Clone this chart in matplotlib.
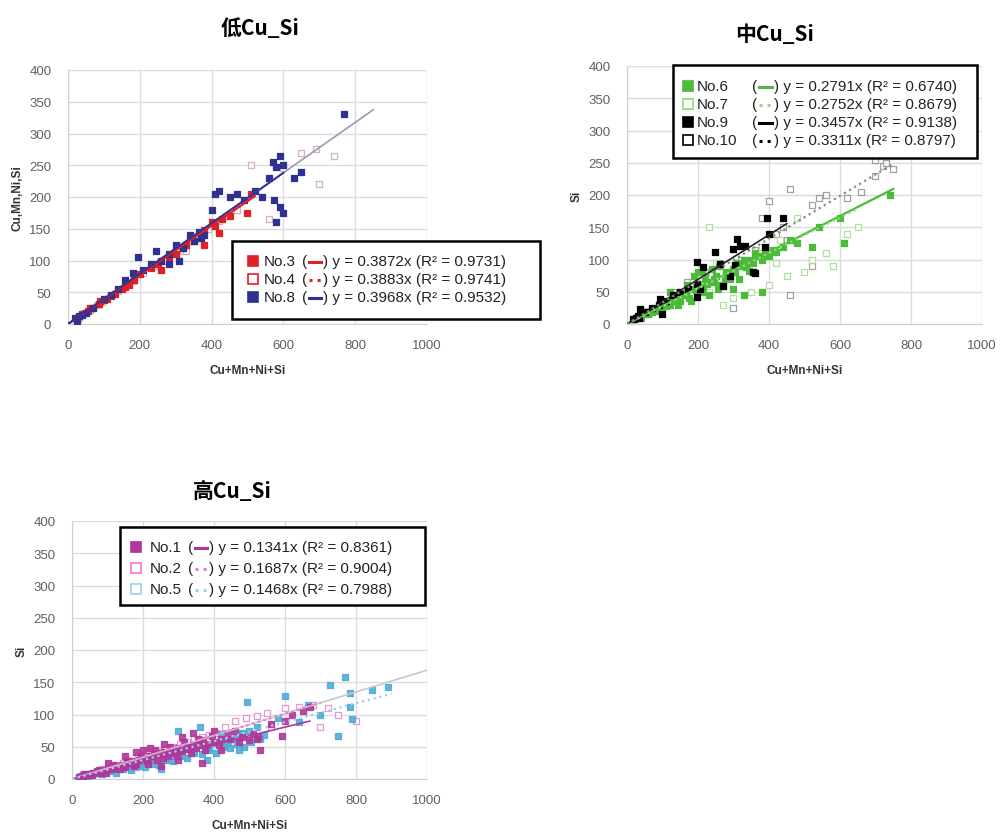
import matplotlib
matplotlib.use("Agg")
import matplotlib.pyplot as plt
from matplotlib.lines import Line2D
from matplotlib.patches import Rectangle

plt.rcParams['font.family'] = ['Liberation Sans', 'Noto Sans CJK SC', 'DejaVu Sans']

# ---------------- data: 低Cu_Si ----------------
no3_x = [25, 40, 55, 70, 85, 100, 110, 130, 150, 170, 185, 200, 230, 250, 260, 280, 300, 320, 330,
         350, 380, 400, 410, 420, 430, 450, 500, 510, 380, 60, 90, 120, 160]
no3_y = [8, 15, 20, 25, 32, 38, 40, 48, 55, 62, 70, 78, 88, 95, 85, 105, 110, 120, 125,
         130, 148, 160, 155, 143, 165, 170, 175, 205, 125, 25, 36, 44, 58]
no4_x = [30, 45, 60, 80, 95, 120, 140, 160, 180, 210, 240, 270, 300, 320, 340, 360, 390, 420, 440, 470,
         510, 650, 690, 700, 740, 560, 600, 330]
no4_y = [10, 18, 22, 30, 35, 45, 52, 60, 68, 80, 92, 100, 118, 115, 130, 135, 150, 162, 170, 180,
         250, 270, 275, 220, 265, 165, 245, 115]
no8_x = [20, 30, 50, 70, 100, 140, 160, 180, 195, 210, 230, 245, 260, 280, 300, 310, 320, 340, 350, 365,
         380, 400, 410, 420, 450, 470, 490, 520, 540, 560, 570, 580, 590, 600, 575, 590, 600, 580, 630,
         650, 770, 280, 370, 25, 40, 120]
no8_y = [10, 12, 18, 25, 40, 55, 70, 80, 105, 85, 95, 115, 100, 110, 125, 100, 120, 140, 130, 145,
         140, 180, 205, 210, 200, 205, 195, 210, 200, 230, 255, 248, 265, 250, 195, 185, 175, 160, 230,
         240, 330, 95, 135, 5, 14, 45]
low_slopes = [0.3872, 0.3883, 0.3968]
low_r2 = ['0.9731', '0.9741', '0.9532']
low_names = ['No.3', 'No.4', 'No.8']

# ---------------- data: 中Cu_Si ----------------
no6_x = [40, 60, 80, 100, 120, 140, 150, 160, 180, 200, 210, 220, 240, 250, 260, 280, 290, 300, 320, 340,
         350, 360, 380, 400, 410, 440, 460, 480, 520, 540, 600, 740, 610, 180, 230, 300, 380, 330, 200,
         120, 260, 70, 90, 110, 130, 145, 165, 175, 195, 215, 225, 245, 255, 275, 285, 305, 315, 335,
         345, 355, 370, 390, 420, 170, 190, 210, 240, 270, 310, 330, 150]
no6_y = [10, 15, 20, 25, 30, 40, 50, 45, 55, 60, 50, 70, 65, 75, 60, 80, 70, 85, 90, 95,
         100, 110, 100, 105, 115, 120, 130, 125, 120, 150, 165, 200, 125, 35, 45, 55, 50, 45, 80,
         50, 90, 18, 22, 28, 35, 30, 48, 40, 52, 58, 62, 70, 55, 72, 78, 80, 70, 88,
         82, 95, 105, 108, 112, 60, 75, 80, 85, 60, 95, 100, 35]
no7_x = [50, 90, 130, 170, 230, 270, 300, 350, 400, 450, 500, 520, 560, 580, 230, 430, 480, 620, 650,
         380, 250, 420]
no7_y = [20, 25, 40, 55, 50, 30, 40, 50, 60, 75, 80, 100, 110, 90, 150, 130, 165, 140, 150,
         120, 95, 95]
no9_x = [393, 440, 309, 299, 332, 248, 262, 304, 214, 290, 360, 196, 172, 205, 196, 98, 37, 18,
         20, 25, 30, 35, 50, 70, 90, 110, 130, 150, 318, 196, 355, 93, 270, 400, 390]
no9_y = [165, 164, 132, 116, 121, 112, 93, 91, 88, 75, 79, 62, 54, 54, 42, 16, 23, 8,
         8, 10, 12, 10, 18, 25, 30, 35, 45, 50, 121, 96, 80, 39, 59, 140, 120]
no10_x = [30, 50, 90, 130, 170, 220, 260, 320, 360, 420, 440, 400, 460, 520, 560, 540, 620, 700, 720,
          750, 730, 700, 660, 380, 450, 520, 460, 300]
no10_y = [10, 15, 30, 50, 65, 80, 95, 100, 115, 140, 150, 190, 210, 185, 200, 195, 195, 230, 245,
          240, 250, 255, 205, 165, 130, 90, 45, 25]
mid_slopes = [0.2791, 0.2752, 0.3457, 0.3311]
mid_r2 = ['0.6740', '0.8679', '0.9138', '0.8797']
mid_names = ['No.6', 'No.7', 'No.9', 'No.10']

# ---------------- data: 高Cu_Si ----------------
no1_x = [20, 30, 40, 50, 60, 70, 80, 90, 100, 110, 120, 130, 140, 150, 160, 170, 180, 190, 200, 210,
         220, 230, 240, 250, 260, 270, 280, 290, 300, 310, 320, 330, 340, 350, 360, 370, 380, 400, 420,
         440, 460, 480, 500, 520, 530, 365, 560, 600, 620, 650, 670, 591, 250, 200, 150, 100, 300, 420,
         35, 55, 75, 95, 115, 135, 155, 175, 195, 215, 235, 255, 275, 295, 315, 335, 355, 375, 395,
         415, 445, 470, 510, 525, 180, 220, 260, 310, 340, 400]
no1_y = [3, 5, 6, 8, 9, 12, 10, 14, 15, 18, 16, 20, 22, 18, 25, 28, 24, 30, 32, 28,
         35, 38, 30, 40, 42, 36, 45, 40, 48, 44, 50, 46, 55, 48, 52, 60, 55, 58, 62,
         70, 75, 65, 60, 62, 45, 25, 85, 90, 100, 105, 112, 67, 20, 45, 35, 25, 30, 45,
         8, 6, 14, 10, 22, 15, 28, 20, 36, 24, 45, 32, 50, 35, 58, 40, 62, 45, 66,
         52, 62, 58, 70, 65, 42, 48, 55, 65, 72, 75]
no2_x = [25, 45, 65, 85, 105, 125, 145, 165, 185, 205, 225, 245, 265, 285, 305, 325, 345, 365, 385, 405,
         430, 460, 490, 520, 550, 600, 640, 680, 720, 750, 800, 560, 480, 380, 280, 180, 700]
no2_y = [4, 8, 10, 15, 18, 22, 25, 28, 32, 36, 40, 44, 48, 50, 55, 58, 62, 65, 68, 72,
         80, 90, 95, 98, 102, 110, 112, 115, 110, 100, 90, 80, 70, 48, 30, 18, 80]
no5_x = [20, 30, 40, 60, 80, 100, 120, 140, 160, 180, 200, 220, 240, 260, 280, 300, 320, 340, 360, 380,
         400, 420, 440, 460, 480, 500, 520, 540, 580, 640, 700, 727, 783, 844, 891, 769, 789, 749, 360,
         492, 600, 300, 783, 665, 25, 45, 65, 85, 105, 125, 145, 165, 185, 205, 225, 245, 265, 285,
         305, 325, 345, 365, 385, 405, 425, 445, 465, 485, 505, 530, 470, 420, 380, 250]
no5_y = [3, 6, 8, 10, 12, 14, 18, 20, 22, 26, 28, 30, 34, 38, 40, 42, 46, 50, 55, 50,
         56, 60, 58, 64, 72, 75, 80, 68, 95, 88, 100, 145, 134, 138, 142, 158, 93, 67, 80,
         119, 129, 75, 111, 114, 5, 4, 9, 8, 12, 10, 16, 14, 20, 18, 24, 22, 30, 28,
         35, 32, 40, 38, 45, 40, 50, 48, 55, 50, 58, 62, 45, 70, 30, 15]
high_slopes = [0.1341, 0.1687, 0.1468]
high_r2 = ['0.8361', '0.9004', '0.7988']
high_names = ['No.1', 'No.2', 'No.5']

W, H = 1004, 837
fig = plt.figure(figsize=(W / 100, H / 100), dpi=100)


def P(px, py):
    return px / W, 1 - py / H


def make_axes(l, t, r, b):
    ax = fig.add_axes([l / W, 1 - b / H, (r - l) / W, (b - t) / H])
    ax.set_xlim(0, 1000)
    ax.set_ylim(0, 400)
    ax.set_xticks(range(0, 1001, 200))
    ax.set_yticks(range(0, 401, 50))
    ax.grid(True, color='#dcdcdc', linewidth=1)
    ax.set_axisbelow(True)
    for s in ['top', 'right']:
        ax.spines[s].set_visible(False)
    for s in ['left', 'bottom']:
        ax.spines[s].set_color('#d0d0d0')
    ax.tick_params(length=0, labelsize=9.5, labelcolor='#606060')
    ax.tick_params(axis='y', pad=12)
    ax.tick_params(axis='x', pad=11)
    return ax


def scatter(ax, x, y, color, filled, edge=None, alpha=1.0):
    ax.scatter(x, y, marker='s', s=13, alpha=alpha,
               facecolor=color if filled else 'white',
               edgecolor=edge if edge else color, linewidths=0.9, zorder=3)


def trend(ax, slope, xmax, color, ls, lw=1.6, alpha=1.0):
    ax.plot([0, xmax], [0, slope * xmax], color=color, linestyle=ls, linewidth=lw,
            alpha=alpha, zorder=4)


def legend_box(box, rows, x_marker, x_text, x_l0, x_l1, x_after, fs):
    l, t, r, b = box
    fig.patches.append(Rectangle(P(l, b), (r - l) / W, (b - t) / H, transform=fig.transFigure,
                                 facecolor='white', edgecolor='black', linewidth=1.8, zorder=10))
    for (name, color, filled, lcolor, ls, slope, r2, py) in rows:
        mx, my = P(x_marker, py)
        fig.lines.append(Line2D([mx], [my], transform=fig.transFigure, marker='s', markersize=6.5,
                                markerfacecolor=color if filled else 'white',
                                markeredgecolor=color, markeredgewidth=1.2, zorder=11))
        fig.text(*P(x_text, py), name, fontsize=fs, va='center', ha='left', color='#222222', zorder=11)
        fig.text(*P(x_l0 - 2, py), '(', fontsize=fs, va='center', ha='right', color='#222222', zorder=11)
        a, yy = P(x_l0, py + 1)
        c, _ = P(x_l1, py + 1)
        fig.lines.append(Line2D([a, c], [yy, yy], transform=fig.transFigure, color=lcolor,
                                linestyle=ls, linewidth=2.2, zorder=11))
        fig.text(*P(x_after + 2, py), ') y = %.4fx (R² = %s)' % (slope, r2), fontsize=fs,
                 va='center', ha='left', color='#222222', zorder=11)


def titles(ax, title, ylabel, tx, ty):
    fig.text(*P(tx, ty), title, fontsize=15, fontweight='bold', ha='center', va='center',
             family=['Noto Sans CJK SC', 'DejaVu Sans'])
    ax.set_xlabel('Cu+Mn+Ni+Si', fontsize=8.5, fontweight='bold', color='#333333', labelpad=9)
    ax.set_ylabel(ylabel, fontsize=8.5, fontweight='bold', color='#333333', labelpad=4)


red = '#e02027'
navy = '#2e3192'
green = '#4cbb3a'
lgreen = '#92d97f'
magenta = '#b0379a'
pink = '#e67ccf'
lblue = '#45a8d6'

# ---- 低Cu_Si ----
ax1 = make_axes(68, 71, 427, 325)
trend(ax1, low_slopes[2], 850, '#9a9ab8', '-', lw=1.2)
scatter(ax1, no4_x, no4_y, '#e07a7a', False, edge='#c9a0a0', alpha=0.8)
scatter(ax1, no3_x, no3_y, red, True)
scatter(ax1, no8_x, no8_y, navy, True)
trend(ax1, low_slopes[0], 520, red, '-')
trend(ax1, low_slopes[1], 520, red, ':')
trend(ax1, low_slopes[2], 600, navy, '-', lw=1.4)
titles(ax1, '低Cu_Si', 'Cu,Mn,Ni,Si', 260, 28)
legend_box((232, 242, 540, 320),
           [(low_names[0], red, True, red, '-', low_slopes[0], low_r2[0], 262),
            (low_names[1], red, False, red, ':', low_slopes[1], low_r2[1], 280),
            (low_names[2], navy, True, navy, '-', low_slopes[2], low_r2[2], 298)],
           253, 264, 309, 321, 321, 11)

# ---- 中Cu_Si ----
ax2 = make_axes(627, 67, 982, 325)
scatter(ax2, no10_x, no10_y, '#555555', False, edge='#8a8a8a', alpha=0.8)
scatter(ax2, no7_x, no7_y, lgreen, False, edge='#a8dc98', alpha=0.9)
scatter(ax2, no6_x, no6_y, green, True)
scatter(ax2, no9_x, no9_y, 'black', True)
trend(ax2, mid_slopes[0], 750, green, '-')
trend(ax2, mid_slopes[1], 650, lgreen, ':')
trend(ax2, mid_slopes[2], 450, '#222222', '-', lw=1.2)
trend(ax2, mid_slopes[3], 750, '#888888', ':')
titles(ax2, '中Cu_Si', 'Si', 775, 35)
legend_box((673, 66, 977, 159),
           [(mid_names[0], green, True, green, '-', mid_slopes[0], mid_r2[0], 87),
            (mid_names[1], lgreen, False, lgreen, ':', mid_slopes[1], mid_r2[1], 105),
            (mid_names[2], 'black', True, 'black', '-', mid_slopes[2], mid_r2[2], 123),
            (mid_names[3], 'black', False, 'black', ':', mid_slopes[3], mid_r2[3], 141)],
           688, 697, 759, 772, 772, 11)

# ---- 高Cu_Si ----
ax3 = make_axes(72, 522, 427, 780)
trend(ax3, high_slopes[1], 1000, '#c8c8c8', '-', lw=1.2)
scatter(ax3, no2_x, no2_y, pink, False, alpha=0.8)
scatter(ax3, no5_x, no5_y, lblue, True, alpha=0.85)
scatter(ax3, no1_x, no1_y, magenta, True, alpha=0.9)
trend(ax3, high_slopes[0], 670, magenta, '-', lw=1.2)
trend(ax3, high_slopes[1], 700, pink, ':')
trend(ax3, high_slopes[2], 900, '#9fd0e8', ':')
titles(ax3, '高Cu_Si', 'Si', 232, 492)
legend_box((120, 528, 425, 606),
           [(high_names[0], magenta, True, magenta, '-', high_slopes[0], high_r2[0], 548),
            (high_names[1], pink, False, pink, ':', high_slopes[1], high_r2[1], 569),
            (high_names[2], '#9fd0e8', False, '#9fd0e8', ':', high_slopes[2], high_r2[2], 590)],
           136, 150, 195, 207, 207, 11)

fig.savefig('out.png', dpi=100, facecolor='white')
